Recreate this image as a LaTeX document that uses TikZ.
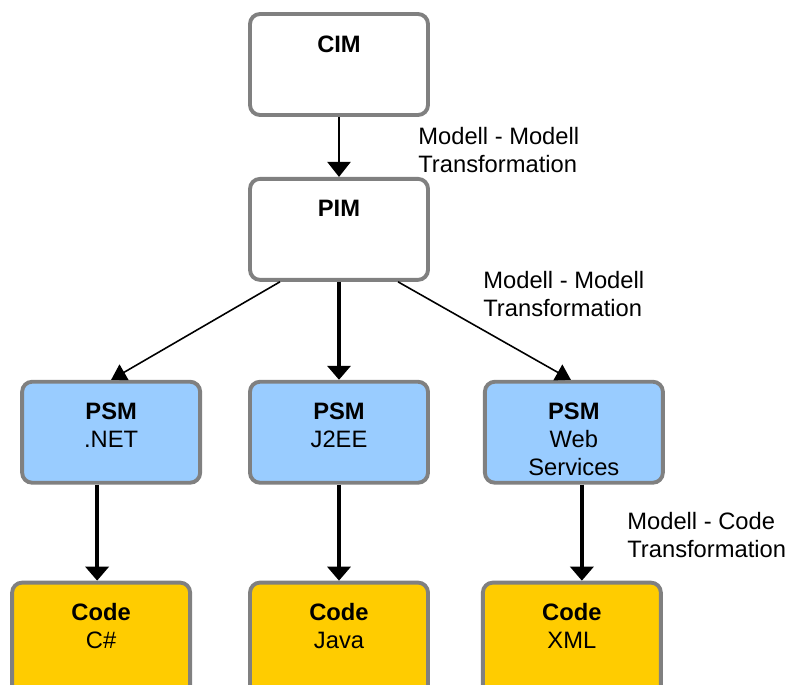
\documentclass[tikz,border=0pt]{standalone}
\usepackage{fontspec}
\setmainfont{Liberation Sans}
\usetikzlibrary{arrows.meta, positioning}
\definecolor{boxgray}{RGB}{128,128,128}
\definecolor{psmblue}{RGB}{153,204,255}
\definecolor{codeyellow}{RGB}{255,204,0}
\begin{document}
\begin{tikzpicture}[
		modelbox/.style={rectangle, draw=boxgray, fill=white, line width=2.2pt, rounded corners=0.2cm, minimum width=3.56cm, text width=3.4cm, align=center, inner sep=0pt, text height=0.76cm, text depth=1.26cm, font=\fontsize{13.5}{15.9}\selectfont},
		psmbox/.style={modelbox, fill=psmblue},
		codebox/.style={modelbox, fill=codeyellow, text depth=1.5cm},
		trafo/.style={anchor=north west, inner sep=0pt, align=left, font=\fontsize{13.5}{15.9}\selectfont},
		thinarr/.style={-{Triangle[width=0.36cm,length=0.3cm]}, line width=0.9pt},
		midarr/.style={-{Triangle[width=0.46cm,length=0.3cm]}, line width=1.3pt},
		thickarr/.style={-{Triangle[width=0.46cm,length=0.28cm]}, line width=2pt}
	]
			\clip (0,0) rectangle (15.8,-13.68);
			\node[modelbox] (cim) at (6.78, -1.29) {\textbf{CIM}};
			\node[modelbox, below=1.2cm of cim] (pim) {\textbf{PIM}};
			\node[psmbox, below=1.96cm of pim] (psmjee) {\textbf{PSM}\\J2EE};
			\node[psmbox, left=0.92cm of psmjee] (psmnet) {\textbf{PSM}\\.NET};
			\node[psmbox, right=1.06cm of psmjee] (psmweb) {\textbf{PSM}\\Web\\Services};
			\node[codebox, below=1.92cm of psmnet, xshift=-0.2cm] (cnet) {\textbf{Code}\\C\#};
			\node[codebox, below=1.92cm of psmjee] (cjava) {\textbf{Code}\\Java};
			\node[codebox, below=1.92cm of psmweb, xshift=-0.04cm] (cxml) {\textbf{Code}\\XML};
			\node[trafo] (mm1) at (8.36, -2.54) {Modell - Modell\\Transformation};
			\node[trafo] (mm2) at (9.66, -5.42) {Modell - Modell\\Transformation};
			\node[trafo] (mc) at (12.54, -10.24) {Modell - Code\\Transformation};
			\draw[midarr] (cim.south) -- (pim.north);
			\draw[thinarr] ([xshift=-1.18cm]pim.south) -- (psmnet.north);
			\draw[thickarr] (pim.south) -- (psmjee.north);
			\draw[thinarr] ([xshift=1.18cm]pim.south) -- ([xshift=-0.06cm]psmweb.north);
			\draw[thickarr] ([xshift=-0.08cm]cnet.north |- psmnet.south) -- ([xshift=-0.08cm]cnet.north);
			\draw[thickarr] (psmjee.south) -- (cjava.north);
			\draw[thickarr] ([xshift=0.2cm]cxml.north |- psmweb.south) -- ([xshift=0.2cm]cxml.north);
		\end{tikzpicture}
\end{document}
